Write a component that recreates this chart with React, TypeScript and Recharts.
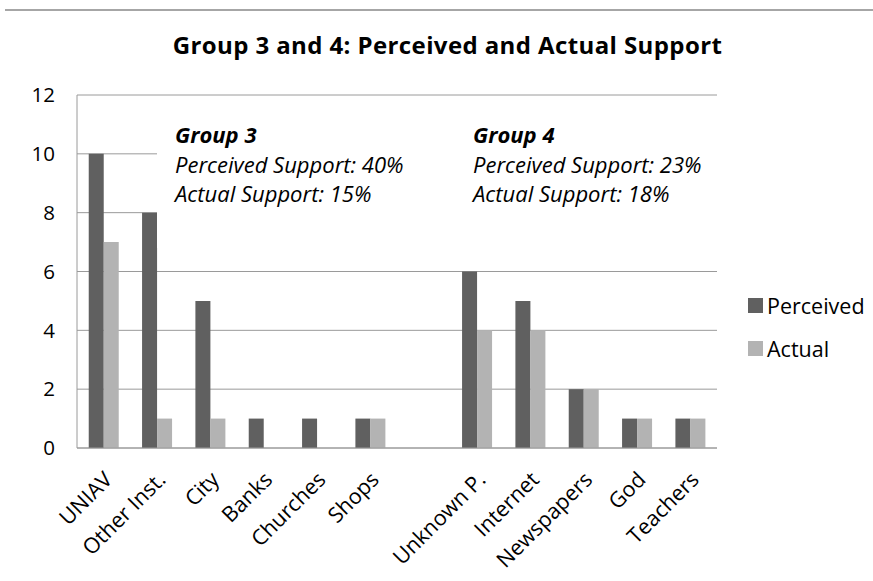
import React from 'react';
import { BarChart, Bar, XAxis, YAxis, CartesianGrid } from 'recharts';

// Sources of support, Group 3 (left) and Group 4 (right), split by an empty slot
const categories = ['UNIAV', 'Other Inst.', 'City', 'Banks', 'Churches', 'Shops', '', 'Unknown P.', 'Internet', 'Newspapers', 'God', 'Teachers'];
const perceived = [10, 8, 5, 1, 1, 1, null, 6, 5, 2, 1, 1];
const actual = [7, 1, 1, 0, 0, 1, null, 4, 4, 2, 1, 1];
const yTicks = [0, 2, 4, 6, 8, 10, 12];

const title = 'Group 3 and 4: Perceived and Actual Support';
const group3 = { name: 'Group 3', perceived: '40%', actual: '15%' };
const group4 = { name: 'Group 4', perceived: '23%', actual: '18%' };

const FONT = '"Open Sans", Lato, sans-serif';
const DARK = '#606060';
const LIGHT = '#b3b3b3';
const GRID = '#9a9a9a';

const data = categories.map((name, i) => ({ name, perceived: perceived[i], actual: actual[i] }));

const AngledTick = (props: any) => {
  const { x, y, payload } = props;
  const ax = x + 10;
  const ay = y + 25;
  return (
    <text
      x={ax}
      y={ay}
      transform={`rotate(-45 ${ax} ${ay})`}
      textAnchor="end"
      fontSize={21.5}
      fontFamily={FONT}
      fill="#000"
    >
      {payload.value}
    </text>
  );
};

const GroupNote = ({ g, left }: { g: typeof group3; left: number }) => (
  <div style={{ position: 'absolute', left, top: 0, fontFamily: FONT, fontSize: 22, fontStyle: 'italic', lineHeight: '29.5px', color: '#000', whiteSpace: 'nowrap' }}>
    <div style={{ fontWeight: 700 }}>{g.name}</div>
    <div>Perceived Support: {g.perceived}</div>
    <div>Actual Support: {g.actual}</div>
  </div>
);

const LegendItem = ({ color, label }: { color: string; label: string }) => (
  <div style={{ display: 'flex', alignItems: 'center', height: 43 }}>
    <span style={{ display: 'inline-block', width: 15, height: 15, background: color, marginRight: 4 }} />
    <span style={{ fontFamily: FONT, fontSize: 21.5, color: '#000' }}>{label}</span>
  </div>
);

export default function App() {
  return (
    <div style={{ position: 'fixed', left: 0, top: 0, width: 873, height: 581, background: '#fff', overflow: 'hidden' }}>
      <div style={{ position: 'absolute', left: 5, right: 0, top: 9, height: 2, background: '#a6a6a6' }} />
      <div style={{ position: 'absolute', left: 0, width: 895, top: 28, textAlign: 'center', fontFamily: FONT, fontWeight: 700, fontSize: 24, letterSpacing: 0.4, color: '#000' }}>
        {title}
      </div>
      <BarChart
        width={873}
        height={581}
        data={data}
        margin={{ top: 95, right: 156, bottom: 0, left: 17 }}
        barCategoryGap="22%"
        barGap={0}
      >
        <CartesianGrid vertical={false} stroke={GRID} strokeWidth={1} />
        <XAxis
          dataKey="name"
          interval={0}
          tickLine={false}
          axisLine={{ stroke: GRID }}
          tick={<AngledTick />}
          height={133}
        />
        <YAxis
          domain={[0, 12]}
          ticks={yTicks}
          tickLine={false}
          tickSize={0}
          tickMargin={22}
          axisLine={{ stroke: GRID }}
          width={60}
          tick={{ fontSize: 20.5, fontFamily: FONT, fill: '#000' }}
        />
        <Bar dataKey="perceived" name="Perceived" fill={DARK} isAnimationActive={false} />
        <Bar dataKey="actual" name="Actual" fill={LIGHT} isAnimationActive={false} />
      </BarChart>
      <div style={{ position: 'absolute', left: 157, top: 118, width: 561, height: 130, background: '#fff' }}>
        <div style={{ position: 'absolute', left: 0, top: 2, width: '100%', height: '100%' }}>
          <GroupNote g={group3} left={18} />
          <GroupNote g={group4} left={316} />
        </div>
      </div>
      <div style={{ position: 'absolute', left: 748, top: 284 }}>
        <LegendItem color={DARK} label="Perceived" />
        <LegendItem color={LIGHT} label="Actual" />
      </div>
    </div>
  );
}
